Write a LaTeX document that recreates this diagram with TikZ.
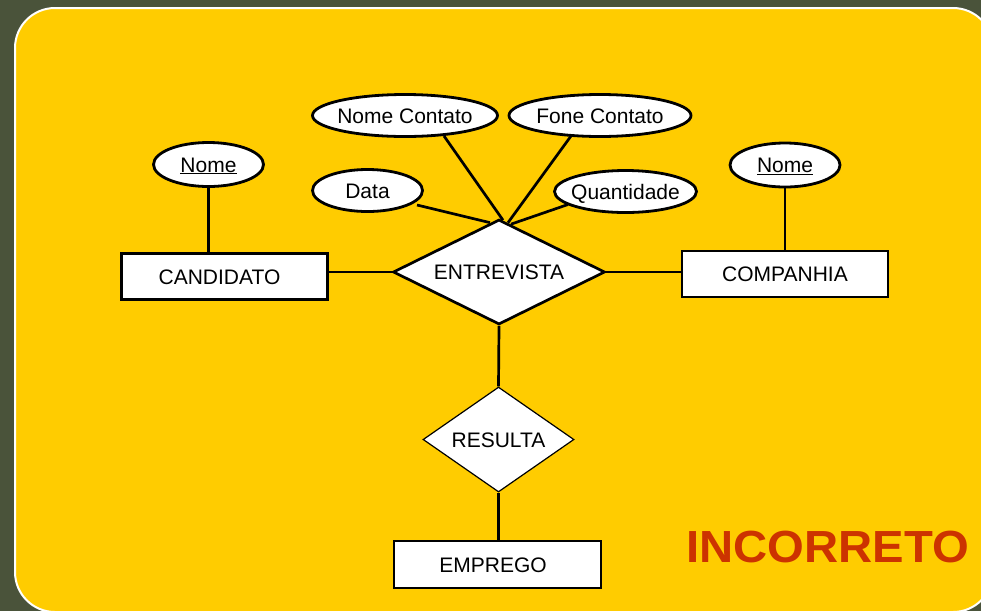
\documentclass[tikz,border=0pt]{standalone}
\usepackage{fontspec}
\setmainfont{Liberation Sans}
\usetikzlibrary{shapes.geometric,calc,backgrounds}
\definecolor{bgdark}{RGB}{74,83,58}
\definecolor{ery}{RGB}{255,204,0}
\definecolor{incred}{RGB}{204,51,0}
\begin{document}
\begin{tikzpicture}[x=1pt,y=-1pt,
  lbl/.style={font=\fontsize{21}{25}\selectfont, text height=15pt, text depth=0pt},
  entity/.style={lbl, draw, fill=white, line width=2.8pt, inner sep=0pt, minimum width=206pt, minimum height=46pt},
  attr/.style={lbl, ellipse, draw, fill=white, line width=2.8pt, inner ysep=0pt, inner xsep=-20pt},
  rel/.style={lbl, diamond, draw, fill=white, aspect=2, inner sep=0pt},
  conn/.style={line width=2.7pt}]
\useasboundingbox (0,0) rectangle (981,611);

% entities
\node[entity] (cand) at (224.5,276.5) {\hspace*{-10pt}CANDIDATO};
\node[entity] (comp) at (785,274) {COMPANHIA};
\node[entity, minimum width=207pt, minimum height=47pt] (emp) at (497.5,564.5) {\hspace*{-9pt}EMPREGO};

% attributes
\node[attr, minimum width=110pt, minimum height=44pt] (nomeL) at (208.5,164.5) {\underline{Nome}};
\node[attr, minimum width=110pt, minimum height=44pt] (nomeR) at (785,165) {\underline{Nome}};
\node[attr, minimum width=185pt, minimum height=42pt] (nc) at (405,115.5) {Nome Contato};
\node[attr, minimum width=182pt, minimum height=42pt] (fc) at (600,115.5) {Fone Contato};
\node[attr, minimum width=110pt, minimum height=42pt] (data) at (367.5,190.5) {Data};
\node[attr, minimum width=142pt, minimum height=42pt] (qt) at (625.5,191.5) {Quantidade};

% relationships
\node[rel, line width=2.7pt, minimum width=212pt, minimum height=105pt] (ent) at (499,272) {ENTREVISTA};
\node[rel, line width=1.2pt, minimum width=151pt, minimum height=105pt] (res) at (498.5,439.5) {RESULTA};

% label
\node[font=\bfseries\fontsize{45}{54}\selectfont, text=incred, xscale=1.05, inner sep=0pt] (inc) at (827.5,546.5) {INCORRETO};

\begin{pgfonlayer}{background}
  \clip (0,0) rectangle (981,611);
  \fill[bgdark] (0,0) rectangle (981,611);
  \draw[white, line width=2pt, fill=ery, rounded corners=40pt] (15,8) rectangle (993,612);
  \draw[conn] (nomeL.south) -- (nomeL.south |- cand.north);
  \draw[conn] (nomeR.south) -- (nomeR.south |- comp.north);
  \draw[conn] (cand.east |- ent.west) -- (ent.west);
  \draw[conn] (ent.east) -- (comp.west |- ent.east);
  \draw[conn] (ent.south) -- (res.north);
  \draw[conn] (res.south) -- (res.south |- emp.north);
  \draw[conn] ($(data)+(49.5,14.5)$) -- ($(ent.north)+(-9,4.5)$);
  \draw[conn] ($(nc)+(39,20.5)$) -- ($(ent.north)+(4,2)$);
  \draw[conn] ($(fc)+(-29,20.5)$) -- ($(ent.north)+(9,4.5)$);
  \draw[conn] ($(qt)+(-57.5,13)$) -- ($(ent.north)+(12,6)$);
\end{pgfonlayer}
\end{tikzpicture}
\end{document}
